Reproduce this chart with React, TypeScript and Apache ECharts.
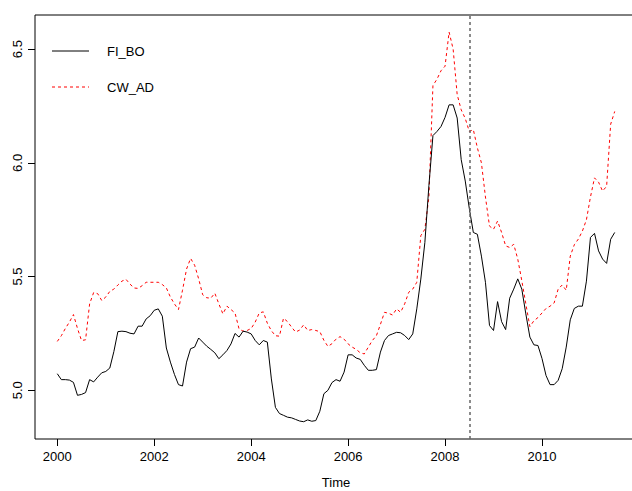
import React, { useEffect, useRef } from "react";
import * as echarts from "echarts";

const startYear = 2000;
const monthsPerYear = 12;

const fiBo = [
  5.073, 5.047, 5.047, 5.045, 5.035, 4.978, 4.982, 4.99, 5.047, 5.037, 5.058, 5.077,
  5.083, 5.098, 5.17, 5.258, 5.26, 5.258, 5.251, 5.248, 5.282, 5.282, 5.314, 5.328,
  5.352, 5.358, 5.326, 5.186, 5.124, 5.07, 5.025, 5.019, 5.124, 5.183, 5.19, 5.23,
  5.212, 5.194, 5.18, 5.165, 5.139, 5.156, 5.175, 5.204, 5.25, 5.234, 5.26, 5.256,
  5.248, 5.219, 5.2, 5.219, 5.212, 5.05, 4.925, 4.898, 4.89, 4.882, 4.879, 4.872,
  4.865, 4.862, 4.87, 4.864, 4.867, 4.908, 4.985, 5.0, 5.034, 5.047, 5.04, 5.08,
  5.156, 5.156, 5.142, 5.136, 5.11, 5.088, 5.088, 5.091, 5.168, 5.219, 5.241, 5.248,
  5.255, 5.253, 5.241, 5.223, 5.248, 5.358, 5.489, 5.65, 5.9, 6.12, 6.138, 6.16,
  6.2, 6.255, 6.255, 6.197, 6.014, 5.92, 5.8, 5.694, 5.686, 5.59, 5.475, 5.285,
  5.263, 5.39, 5.302, 5.267, 5.405, 5.445, 5.49, 5.445, 5.336, 5.234, 5.2, 5.197,
  5.14, 5.065, 5.025, 5.025, 5.044, 5.095, 5.19, 5.31, 5.36, 5.37, 5.37, 5.48,
  5.672, 5.69, 5.613, 5.577, 5.558, 5.664, 5.694,
];

const cwAd = [
  5.215, 5.24, 5.272, 5.3, 5.333, 5.272, 5.219, 5.222, 5.38, 5.43, 5.425, 5.395,
  5.41, 5.435, 5.445, 5.463, 5.48, 5.488, 5.467, 5.45, 5.448, 5.46, 5.475, 5.475,
  5.475, 5.475, 5.465, 5.45, 5.41, 5.38, 5.355, 5.44, 5.533, 5.58, 5.55, 5.49,
  5.42, 5.407, 5.405, 5.427, 5.38, 5.336, 5.37, 5.355, 5.34, 5.27, 5.26, 5.263,
  5.272, 5.3, 5.34, 5.345, 5.295, 5.262, 5.24, 5.238, 5.317, 5.302, 5.278, 5.256,
  5.265, 5.288, 5.263, 5.267, 5.263, 5.258, 5.22, 5.193, 5.205, 5.225, 5.236, 5.225,
  5.204, 5.19, 5.18, 5.165, 5.16, 5.19, 5.219, 5.24, 5.29, 5.343, 5.339, 5.331,
  5.358, 5.343, 5.38, 5.431, 5.445, 5.475, 5.68, 5.708, 5.85, 6.34, 6.368, 6.405,
  6.425, 6.575, 6.5, 6.3, 6.233, 6.195, 6.138, 6.146, 6.066, 6.0, 5.85, 5.722,
  5.708, 5.744, 5.694, 5.635, 5.628, 5.642, 5.577, 5.482, 5.38, 5.28, 5.306, 5.32,
  5.34, 5.36, 5.37, 5.384, 5.445, 5.463, 5.44, 5.59, 5.64, 5.665, 5.7, 5.75,
  5.85, 5.934, 5.915, 5.876, 5.897, 6.17, 6.226,
];

const xTicks = [2000, 2002, 2004, 2006, 2008, 2010];
const yTicks = [5.0, 5.5, 6.0, 6.5];
const breakDate = 2008.5;
const seriesNames = ["FI_BO", "CW_AD"];
const seriesColors = ["#000000", "#ff0000"];
const seriesDash: (number[] | null)[] = [null, [3, 3]];

const FONT = "'Liberation Sans', Arial, Helvetica, sans-serif";

export default function App() {
  const ref = useRef<HTMLDivElement>(null);

  useEffect(() => {
    if (!ref.current) return;
    const chart = echarts.init(ref.current, null, { renderer: "svg" });
    const toPairs = (arr: number[]) =>
      arr.map((v, i) => [startYear + i / monthsPerYear, v]);

    const legendElements: any[] = [];
    seriesNames.forEach((name, k) => {
      const cy = 51 + k * 36;
      legendElements.push({
        type: "line",
        shape: { x1: 52, y1: cy, x2: 89, y2: cy },
        style: {
          stroke: seriesColors[k],
          lineWidth: 1,
          lineDash: seriesDash[k] || undefined,
        },
        silent: true,
      });
      legendElements.push({
        type: "text",
        x: 107,
        y: cy,
        style: {
          text: name,
          fill: "#000",
          font: `13px ${FONT}`,
          textAlign: "left",
          textVerticalAlign: "middle",
        },
        silent: true,
      });
    });

    chart.setOption({
      animation: false,
      backgroundColor: "#ffffff",
      textStyle: { fontFamily: FONT },
      grid: {
        left: 35,
        right: -5,
        top: 15,
        bottom: 52,
        show: true,
        borderColor: "#000",
        borderWidth: 1,
        backgroundColor: "transparent",
        outerBoundsMode: "none",
        containLabel: false,
      },
      graphic: legendElements,
      xAxis: {
        type: "value",
        min: 1999.54,
        max: 2011.96,
        name: "Time",
        nameLocation: "middle",
        nameGap: 37,
        nameTextStyle: { fontSize: 13, color: "#000", fontFamily: FONT },
        axisLine: { show: false },
        splitLine: { show: false },
        axisTick: {
          show: true,
          customValues: xTicks,
          length: 7,
          lineStyle: { color: "#000", width: 1 },
        },
        axisLabel: {
          customValues: xTicks,
          color: "#000",
          fontSize: 13,
          fontFamily: FONT,
          margin: 11,
          formatter: (v: number) => String(Math.round(v)),
        },
      },
      yAxis: {
        type: "value",
        min: 4.786,
        max: 6.65,
        axisLine: { show: false },
        splitLine: { show: false },
        axisTick: {
          show: true,
          customValues: yTicks,
          length: 7,
          lineStyle: { color: "#000", width: 1 },
        },
        axisLabel: {
          customValues: yTicks,
          rotate: 90,
          color: "#000",
          fontSize: 13,
          fontFamily: FONT,
          margin: 11,
          formatter: (v: number) => v.toFixed(1),
        },
      },
      series: [
        {
          name: seriesNames[0],
          type: "line",
          data: toPairs(fiBo),
          showSymbol: false,
          symbol: "none",
          lineStyle: { color: seriesColors[0], width: 1, type: "solid" },
          itemStyle: { color: seriesColors[0] },
          z: 3,
          markLine: {
            silent: true,
            symbol: ["none", "none"],
            label: { show: false },
            lineStyle: { color: "#666", width: 1.5, type: [3, 3] },
            data: [{ xAxis: breakDate }],
          },
        },
        {
          name: seriesNames[1],
          type: "line",
          data: toPairs(cwAd),
          showSymbol: false,
          symbol: "none",
          lineStyle: { color: seriesColors[1], width: 1, type: [3, 3] },
          itemStyle: { color: seriesColors[1] },
          z: 2,
        },
      ],
    });

    return () => chart.dispose();
  }, []);

  return (
    <div
      ref={ref}
      style={{
        position: "fixed",
        left: 0,
        top: 0,
        width: 632,
        height: 491,
        background: "#fff",
      }}
    />
  );
}
